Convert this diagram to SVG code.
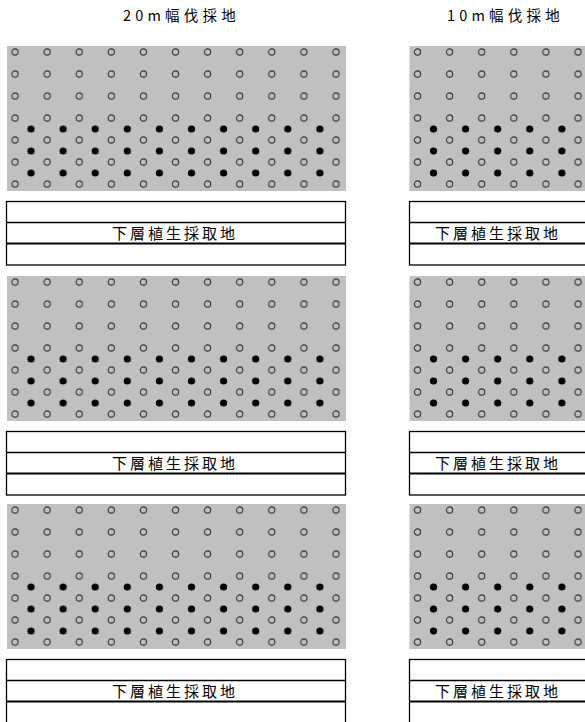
<svg xmlns="http://www.w3.org/2000/svg" xmlns:xlink="http://www.w3.org/1999/xlink" width="585" height="722" viewBox="0 0 585 722">
<style>
.gray{fill:#c0c0c0}
.tbl{fill:#fff;stroke:#000;stroke-width:1.3}
.ln{stroke:#000;stroke-width:1.3}
.ln2{stroke:#000;stroke-width:1.8}
.lbl{font-family:"Noto Sans CJK JP","Noto Sans",sans-serif;font-size:15px;letter-spacing:3px;fill:#000}
.ttl{font-family:"Noto Sans CJK JP","Noto Sans",sans-serif;font-size:14.5px;letter-spacing:4.2px;fill:#000}
</style>
<defs>
<pattern id="po" patternUnits="userSpaceOnUse" x="-1.05" y="41" width="32.1" height="22">
<circle cx="16.05" cy="11" r="3.1" fill="none" stroke="#333" stroke-width="1.1"/>
</pattern>
<pattern id="pf" patternUnits="userSpaceOnUse" x="14.95" y="118" width="32.1" height="22">
<circle cx="16.05" cy="11" r="3.6" fill="#000"/>
</pattern>
<g id="field">
<rect class="gray" x="7" y="46" width="339" height="145"/>
<rect x="7" y="46" width="339" height="145" fill="url(#po)"/>
<rect x="7" y="122" width="339" height="58" fill="url(#pf)"/>
</g>
</defs>

<g id="title-20m"><text class="ttl" x="123" y="21">20m幅伐採地</text></g>
<g id="title-10m"><text class="ttl" x="447" y="21">10m幅伐採地</text></g>

<g id="field-20m-1"><use xlink:href="#field" href="#field"/></g>
<g id="field-20m-2"><use xlink:href="#field" href="#field" transform="translate(0,230)"/></g>
<g id="field-20m-3"><use xlink:href="#field" href="#field" transform="translate(0,458)"/></g>
<g id="field-10m-1"><use xlink:href="#field" href="#field" transform="translate(402.5,0)"/></g>
<g id="field-10m-2"><use xlink:href="#field" href="#field" transform="translate(402.5,230)"/></g>
<g id="field-10m-3"><use xlink:href="#field" href="#field" transform="translate(402.5,458)"/></g>

<g id="table-20m-1">
<rect class="tbl" x="6.5" y="201.5" width="339" height="63.5"/>
<line class="ln" x1="6.5" y1="222.5" x2="345.5" y2="222.5"/>
<line class="ln2" x1="6.5" y1="243.5" x2="345.5" y2="243.5"/>
<text class="lbl" x="112" y="239">下層植生採取地</text>
</g>
<g id="table-20m-2">
<rect class="tbl" x="6.5" y="431.5" width="339" height="63.5"/>
<line class="ln" x1="6.5" y1="452.5" x2="345.5" y2="452.5"/>
<line class="ln2" x1="6.5" y1="473.5" x2="345.5" y2="473.5"/>
<text class="lbl" x="112" y="469">下層植生採取地</text>
</g>
<g id="table-20m-3">
<rect class="tbl" x="6.5" y="659.5" width="339" height="70"/>
<line class="ln" x1="6.5" y1="680.5" x2="345.5" y2="680.5"/>
<line class="ln2" x1="6.5" y1="701.5" x2="345.5" y2="701.5"/>
<text class="lbl" x="112" y="697">下層植生採取地</text>
</g>
<g id="table-10m-1">
<rect class="tbl" x="409.5" y="201.5" width="200" height="63.5"/>
<line class="ln" x1="409.5" y1="222.5" x2="609.5" y2="222.5"/>
<line class="ln2" x1="409.5" y1="243.5" x2="609.5" y2="243.5"/>
<text class="lbl" x="435" y="239">下層植生採取地</text>
</g>
<g id="table-10m-2">
<rect class="tbl" x="409.5" y="431.5" width="200" height="63.5"/>
<line class="ln" x1="409.5" y1="452.5" x2="609.5" y2="452.5"/>
<line class="ln2" x1="409.5" y1="473.5" x2="609.5" y2="473.5"/>
<text class="lbl" x="435" y="469">下層植生採取地</text>
</g>
<g id="table-10m-3">
<rect class="tbl" x="409.5" y="659.5" width="200" height="70"/>
<line class="ln" x1="409.5" y1="680.5" x2="609.5" y2="680.5"/>
<line class="ln2" x1="409.5" y1="701.5" x2="609.5" y2="701.5"/>
<text class="lbl" x="435" y="697">下層植生採取地</text>
</g>
<g id="connectors"/>
</svg>
